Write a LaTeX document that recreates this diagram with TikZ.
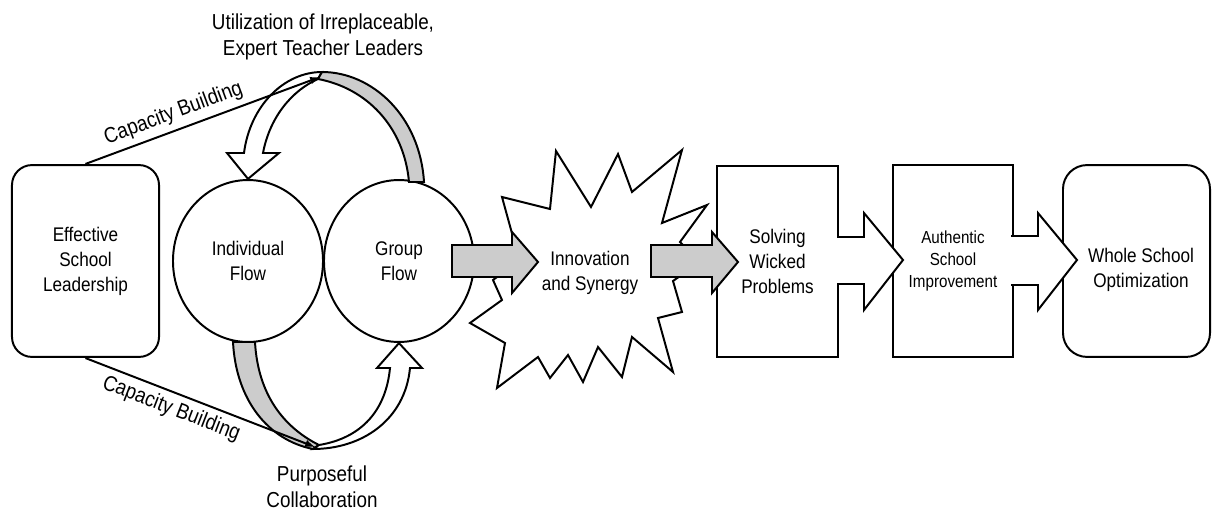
\documentclass[tikz,border=0pt]{standalone}
\usepackage{fontspec}
\setmainfont{Liberation Sans}
\usepackage{tikz}
\usetikzlibrary{shapes,arrows,calc}

\begin{document}
\begin{tikzpicture}[
			x = 0.025cm, y = -0.025cm,
			line width = 1.4pt,
			txt/.style = {align = center, yscale = 1.15, font = \fontsize{12.2}{15.5}\selectfont},
			lbl/.style = {txt, font = \fontsize{13.4}{16}\selectfont},
			panel/.style = {txt, draw, fill = white, minimum width = #1, minimum height = 4.17cm, inner sep = 0},
			flow/.style = {txt, draw, fill = white, ellipse, minimum width = 3.75cm, minimum height = 3.52cm, inner sep = 0},
			band/.style = {draw, fill = gray!40},
			hollow/.style = {draw, fill = white}]

			\useasboundingbox (0,0) rectangle (1213,512);

			% starburst
			\draw[hollow] (502,197) -- (550,209) -- (556,151) -- (591,207) -- (618,154) -- (632,192) -- (682,150) -- (662,223) -- (707,205) -- (680,242) -- (700,262) -- (673,281) -- (682,312) -- (658,318) -- (673,372) -- (632,337) -- (622,377) -- (598,347) -- (583,382) -- (568,355) -- (550,378) -- (538,357) -- (497,388) -- (505,343) -- (470,323) -- (502,300) -- (493,280) -- (520,260) -- (513,237) -- cycle;
			\node[txt] (inno) at (590,273) {Innovation\\and Synergy};

			\node[panel = 3.675cm, rounded corners = 0.5cm] (esl) at (85.5,261) {Effective\\School\\Leadership};
			\node[flow] (ind) at (248,261) {Individual\\Flow};
			\node[flow] (grp) at (399,261) {Group\\Flow};
			\node[panel = 3.025cm] (sol) at (777.5,261.5) {Solving\\Wicked\\Problems};
			\node[panel = 3cm, font = \fontsize{10.8}{13.6}\selectfont] (auth) at (953,261) {Authentic\\School\\Improvement};
			\node[panel = 3.675cm, rounded corners = 0.6cm] (whole) at (1136.5,261) {};
			\node[txt] (wholeTxt) at (1141,270) {Whole School\\Optimization};

			\node[lbl] (util) at (323,37) {Utilization of Irreplaceable,\\Expert Teacher Leaders};
			\node[lbl] (purp) at (322,487) {Purposeful\\Collaboration};

			\coordinate (topApex) at (320,77);
			\coordinate (botApex) at (315,447);

			% loop over the two flows
			\draw[hollow] (322,72) .. controls (284,72) and (250,106) .. (244,153) -- (227,153) -- (ind.north) -- (279,153) -- (263,153) .. controls (270,116) and (293,90) .. (318,79) -- cycle;
			\draw[band] (322,72) .. controls (372,72) and (420,116) .. (424,182) -- (409,182) .. controls (404,126) and (366,88) .. (318,79) -- cycle;
			\draw[band] (233,342) .. controls (236,400) and (268,440) .. (313,449) -- (319,445) .. controls (285,428) and (258,396) .. (255,342) -- cycle;
			\draw[hollow] (313,449) .. controls (362,449) and (405,420) .. (410,368) -- (422,368) -- (grp.south) -- (377,368) -- (390,368) .. controls (386,410) and (362,438) .. (319,445) -- cycle;

			\draw[-latex] (esl.north) -- node[lbl, pos = 0.4, above, sloped] (capTop) {Capacity Building} (topApex);
			\draw[-latex] (esl.south) -- node[lbl, pos = 0.4, below, sloped] (capBot) {Capacity Building} (botApex);

			% block arrows
			\draw[band] (452,245) -- (512,245) -- (512,232) -- (538,262) -- (512,293) -- (512,277) -- (452,277) -- cycle;
			\draw[band] (651,245) -- (712,245) -- (712,232) -- (738,262) -- (712,293) -- (712,277) -- (651,277) -- cycle;
			\filldraw[hollow] (837,237) -- (864,237) -- (864,213) -- (903,260) -- (864,310) -- (864,284) -- (837,284);
			\filldraw[hollow] (1011,236) -- (1038,236) -- (1038,213) -- (1077,260) -- (1038,310) -- (1038,285) -- (1011,285);

		\end{tikzpicture}
\end{document}
